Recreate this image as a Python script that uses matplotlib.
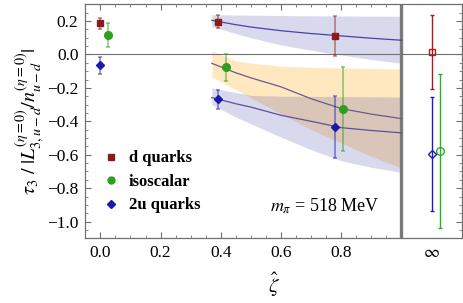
import numpy as np
import matplotlib
matplotlib.use("Agg")
import matplotlib.pyplot as plt
from matplotlib.lines import Line2D
from matplotlib.ticker import FixedLocator, MultipleLocator

plt.rcParams['font.family'] = ['Liberation Serif', 'DejaVu Serif']
plt.rcParams['mathtext.fontset'] = 'stix'

# lattice points (finite zeta)
zeta_d = [0.0, 0.39, 0.78]
d_val = [0.188, 0.197, 0.111]
d_err = [0.033, 0.037, 0.12]

zeta_iso = [0.025, 0.416, 0.806]
iso_val = [0.115, -0.077, -0.328]
iso_err = [0.072, 0.081, 0.25]

zeta_u = [0.0, 0.39, 0.78]
u_val = [-0.066, -0.268, -0.433]
u_err = [0.05, 0.056, 0.185]

# extrapolated values at zeta -> infinity
inf_x = {'d': 1.102, 'iso': 1.128, 'u': 1.102}
inf_val = {'d': 0.014, 'iso': -0.577, 'u': -0.595}
inf_err = {'d': 0.222, 'iso': 0.463, 'u': 0.343}

# fit curves and error bands
zeta_band = [0.37, 0.45, 0.5, 0.6, 0.7, 0.8, 0.9, 1.0]
d_fit = [0.204, 0.178, 0.164, 0.142, 0.125, 0.111, 0.097, 0.085]
d_up = [0.238, 0.236, 0.235, 0.233, 0.231, 0.230, 0.229, 0.228]
d_lo = [0.167, 0.125, 0.100, 0.057, 0.025, -0.003, -0.030, -0.053]

iso_fit = [-0.053, -0.110, -0.140, -0.194, -0.265, -0.324, -0.357, -0.384]
iso_up = [0.021, -0.037, -0.052, -0.070, -0.077, -0.081, -0.084, -0.087]
iso_lo = [-0.134, -0.210, -0.260, -0.355, -0.450, -0.530, -0.610, -0.680]

u_fit = [-0.258, -0.295, -0.315, -0.364, -0.400, -0.438, -0.455, -0.469]
u_up = [-0.200, -0.228, -0.245, -0.250, -0.251, -0.252, -0.253, -0.255]
u_lo = [-0.300, -0.375, -0.415, -0.495, -0.570, -0.636, -0.675, -0.706]

c_d = '#8b1a1a'
c_iso = '#2f9e1f'
c_u = '#1a1aa8'

fig = plt.figure(figsize=(4.63, 3.03), dpi=100)
ax = fig.add_axes([0.1843, 0.2135, 0.8129, 0.7723])

# bands
ax.fill_between(zeta_band, iso_lo, iso_up, color='#ffa500', alpha=0.25, lw=0, zorder=1)
ax.fill_between(zeta_band, d_lo, d_up, color='#3030a0', alpha=0.18, lw=0, zorder=1.1)
ax.fill_between(zeta_band, u_lo, u_up, color='#3030a0', alpha=0.18, lw=0, zorder=1.1)

ax.axhline(0, color='#707070', lw=0.8, zorder=1.5)
ax.axvline(1.0, color='#7a7a7a', lw=2.4, zorder=1.6)

ax.plot(zeta_band, d_fit, color='#4444aa', lw=0.9, zorder=2)
ax.plot(zeta_band, iso_fit, color='#6a5a90', lw=0.9, zorder=2)
ax.plot(zeta_band, u_fit, color='#5a50a0', lw=0.9, zorder=2)

# data points
ax.errorbar(zeta_d, d_val, yerr=d_err, fmt='none', ecolor=c_d, alpha=0.55,
            elinewidth=1.1, capsize=1.7, capthick=1.1, zorder=3)
ax.plot(zeta_d, d_val, 's', color=c_d, ms=5, zorder=4)
ax.errorbar(zeta_iso, iso_val, yerr=iso_err, fmt='none', ecolor='#3aa020', alpha=0.6,
            elinewidth=1.1, capsize=1.7, capthick=1.1, zorder=3)
ax.plot(zeta_iso, iso_val, 'o', color=c_iso, ms=5.5, zorder=4)
ax.errorbar(zeta_u, u_val, yerr=u_err, fmt='none', ecolor=c_u, alpha=0.55,
            elinewidth=1.1, capsize=1.7, capthick=1.1, zorder=3)
ax.plot(zeta_u, u_val, 'D', color=c_u, ms=4.5, zorder=4)

# zeta -> infinity
ax.errorbar(inf_x['d'], inf_val['d'], yerr=inf_err['d'], fmt='s', mfc='none', mec='#aa1a1a',
            ms=5, ecolor='#aa1a1a', elinewidth=1.0, capsize=1.7, capthick=1.0, zorder=3)
ax.errorbar(inf_x['iso'], inf_val['iso'], yerr=inf_err['iso'], fmt='o', mfc='none', mec='#22b522',
            ms=5.5, ecolor='#22b522', elinewidth=1.0, capsize=1.7, capthick=1.0, zorder=3)
ax.errorbar(inf_x['u'], inf_val['u'], yerr=inf_err['u'], fmt='D', mfc='none', mec='#1a1acc',
            ms=4.5, ecolor='#1a1acc', elinewidth=1.0, capsize=1.7, capthick=1.0, zorder=3)

ax.set_xlim(-0.05, 1.2)
ax.set_ylim(-1.1, 0.3)

ax.xaxis.set_major_locator(FixedLocator([0.0, 0.2, 0.4, 0.6, 0.8, 1.1]))
ax.set_xticklabels(['0.0', '0.2', '0.4', '0.6', '0.8', r'$\infty$'])
ax.xaxis.set_minor_locator(FixedLocator(np.arange(0.05, 1.0, 0.05)))
ax.yaxis.set_major_locator(MultipleLocator(0.2))
ax.yaxis.set_minor_locator(MultipleLocator(0.05))
ax.tick_params(which='both', direction='in', top=True, right=True, color='#707070',
               labelsize=12.5, pad=5)
ax.tick_params(which='major', length=4, width=0.8)
ax.tick_params(which='minor', length=2, width=0.6)
for t in ax.xaxis.get_major_ticks()[-1:]:
    t.tick1line.set_visible(False)
    t.tick2line.set_visible(False)
for s in ax.spines.values():
    s.set_color('#707070')
    s.set_linewidth(0.9)

ax.set_xlabel(r'$\hat{\zeta}$', fontsize=15, labelpad=7)
ax.set_ylabel(r'$\tau_3\ /\ |L_{3,u-d}^{(\eta=0)}/n_{u-d}^{(\eta=0)}|$', fontsize=14.5, labelpad=1)

ax.text(0.745, -0.91, r'$m_\pi$ = 518 MeV', fontsize=13, ha='center', va='center')

handles = [Line2D([], [], ls='none', marker='s', color=c_d, ms=4),
           Line2D([], [], ls='none', marker='o', color=c_iso, ms=5),
           Line2D([], [], ls='none', marker='D', color=c_u, ms=4)]
ax.legend(handles, ['d quarks', 'isoscalar', '2u quarks'], loc='upper left',
          bbox_to_anchor=(0.005, 0.44), frameon=False, handlelength=1.0,
          handletextpad=0.6, labelspacing=0.45, prop={'weight': 'bold', 'size': 12})

fig.savefig('out.png', dpi=100)
